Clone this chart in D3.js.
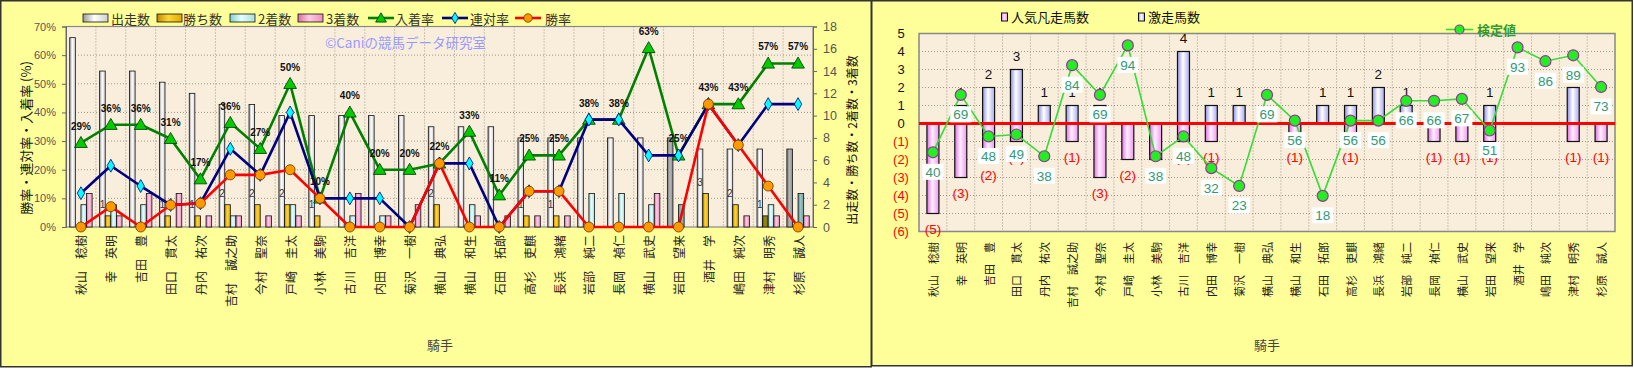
<!DOCTYPE html>
<html><head><meta charset="utf-8">
<script src="https://cdn.jsdelivr.net/npm/d3@7"></script>
<style>body{margin:0;background:#fff;}svg{display:block;}</style>
</head><body>
<svg id="c" width="1634" height="369"></svg>
<script>
// ---------- DATA ----------
const jockeys = ["秋山　稔樹","幸　英明","吉田　豊","田口　貫太","丹内　祐次","吉村　誠之助","今村　聖奈","戸崎　圭太","小林　美駒","古川　吉洋","内田　博幸","菊沢　一樹","横山　典弘","横山　和生","石田　拓郎","高杉　吏麒","長浜　鴻緒","岩部　純二","長岡　禎仁","横山　武史","岩田　望来","酒井　学","嶋田　純次","津村　明秀","杉原　誠人"];
const starts  = [17,14,14,13,12,11,11,10,10,10,10,10,9,9,9,8,8,8,8,8,8,7,7,7,7];
const wins    = [0,1,0,1,1,2,2,2,1,0,0,0,2,0,0,1,1,0,0,0,0,3,2,1,0];
const seconds = [2,2,2,0,0,1,0,2,0,1,1,0,0,2,0,0,0,3,3,2,2,0,0,2,3];
const thirds  = [3,1,3,3,1,1,1,1,0,3,1,2,0,1,1,1,1,0,0,3,0,0,1,1,1];
const placeRate = [29.4,35.7,35.7,30.8,16.7,36.4,27.3,50,10,40,20,20,22.2,33.3,11.1,25,25,37.5,37.5,62.5,25,42.9,42.9,57.1,57.1];
const rentaiRate = [11.8,21.4,14.3,7.7,8.3,27.3,18.2,40,10,10,10,0,22.2,22.2,0,12.5,12.5,37.5,37.5,25,25,42.9,28.6,42.9,42.9];
const winRate = [0,7.1,0,7.7,8.3,18.2,18.2,20,10,0,0,0,22.2,0,0,12.5,12.5,0,0,0,0,42.9,28.6,14.3,0];
const pctTicks = [0,10,20,30,40,50,60,70];
const cntTicks = [0,2,4,6,8,10,12,14,16,18];

const gekisou = [0,1,2,3,1,1,1,0,0,4,1,1,0,0,1,1,2,1,0,0,1,0,0,2,0];
const bonsou  = [5,3,2,1,0,1,3,2,2,1,1,0,0,1,0,1,0,0,1,1,1,0,0,1,1];
const kentei  = [40,69,48,49,38,84,69,94,38,48,32,23,69,56,18,56,56,66,66,67,51,93,86,89,73];
const rTicks = [5,4,3,2,1,0,-1,-2,-3,-4,-5,-6];

// ---------- SETUP ----------
const svg = d3.select("#c");
const JP = "'Noto Sans CJK JP', sans-serif";
const NUM = "'Liberation Sans', Arial, sans-serif";
const defs = svg.append("defs");
function grad(id, stops){
  const g = defs.append("linearGradient").attr("id",id).attr("x1","0%").attr("x2","100%").attr("y1","0%").attr("y2","0%");
  stops.forEach(([o,c])=>g.append("stop").attr("offset",o).attr("stop-color",c));
}
grad("gStart",[[0,"#9a9a9a"],[0.45,"#ffffff"],[1,"#cfcfcf"]]);
grad("gStartD",[[0,"#707070"],[0.45,"#b8b8b8"],[1,"#909090"]]);
grad("gWin",[[0,"#c08a00"],[0.45,"#ffd633"],[1,"#e0a800"]]);
grad("gWinD",[[0,"#6a5a00"],[0.45,"#a08a10"],[1,"#7a6800"]]);
grad("g2nd",[[0,"#88cccc"],[0.45,"#e6ffff"],[1,"#aadddd"]]);
grad("g2ndD",[[0,"#5a8f8f"],[0.45,"#9ec4c4"],[1,"#6fa0a0"]]);
grad("g3rd",[[0,"#d8709f"],[0.45,"#ffcce6"],[1,"#e890bb"]]);
grad("gBlue",[[0,"#8f8fe6"],[0.45,"#ffffff"],[1,"#a9a9ee"]]);
grad("gPink",[[0,"#e070e0"],[0.45,"#ffeeff"],[1,"#ee99ee"]]);
// bars drawn in a darker shade in the picture
const darkStart = new Set(["岩田　望来","杉原　誠人"]);
const dark2nd = new Set(["岩田　望来","杉原　誠人"]);
const darkWin = new Set(["津村　明秀"]);

// panels
svg.append("rect").attr("x",0.75).attr("y",0.75).attr("width",870.5).attr("height",366)
  .attr("fill","#ffff99").attr("stroke","#333").attr("stroke-width",1.5);
svg.append("rect").attr("x",871.75).attr("y",0.75).attr("width",760.5).attr("height",365)
  .attr("fill","#ffff99").attr("stroke","#333").attr("stroke-width",1.5);

// ---------- LEFT CHART ----------
const L = {x0:66, x1:813, y0:26.5, y1:227};
const xL = d3.scaleBand().domain(jockeys).range([L.x0,L.x1]);
const yPct = d3.scaleLinear().domain([0,70]).range([L.y1,L.y0]);
const yCnt = d3.scaleLinear().domain([0,18]).range([L.y1,L.y0]);
const cxL = d => xL(d) + xL.bandwidth()/2;
const gl = svg.append("g");
gl.append("rect").attr("x",L.x0).attr("y",L.y0).attr("width",L.x1-L.x0).attr("height",L.y1-L.y0).attr("fill","#f8eedb");
gl.selectAll(".hg").data(pctTicks.slice(1)).join("line")
  .attr("x1",L.x0).attr("x2",L.x1).attr("y1",d=>yPct(d)).attr("y2",d=>yPct(d))
  .attr("stroke","#a09888").attr("stroke-dasharray","1,2").attr("stroke-width",1);
gl.selectAll(".vg").data(jockeys.slice(1)).join("line")
  .attr("x1",d=>xL(d)).attr("x2",d=>xL(d)).attr("y1",L.y0).attr("y2",L.y1)
  .attr("stroke","#a09888").attr("stroke-dasharray","1,2").attr("stroke-width",1);
gl.append("rect").attr("x",L.x0).attr("y",L.y0).attr("width",L.x1-L.x0).attr("height",L.y1-L.y0)
  .attr("fill","none").attr("stroke","#888").attr("stroke-width",1.2);

// axes
const axL = gl.append("g").attr("transform",`translate(${L.x0},0)`)
  .call(d3.axisLeft(yPct).tickValues(pctTicks).tickFormat(d=>d+"%").tickSize(4).tickPadding(6));
const axR = gl.append("g").attr("transform",`translate(${L.x1},0)`)
  .call(d3.axisRight(yCnt).tickValues(cntTicks).tickSize(4).tickPadding(6));
[axL,axR].forEach(a=>{a.select(".domain").attr("stroke","#666");a.selectAll(".tick line").attr("stroke","#666");});
axL.selectAll("text").attr("font-family",NUM).attr("font-size",11).attr("fill","#555");
axR.selectAll("text").attr("font-family",NUM).attr("font-size",12.5).attr("fill","#555");

// bars
const bw = 5.6;
const barSeries = [
  {vals:starts, fill:"url(#gStart)", dark:darkStart, dfill:"url(#gStartD)"},
  {vals:wins, fill:"url(#gWin)", dark:darkWin, dfill:"url(#gWinD)"},
  {vals:seconds, fill:"url(#g2nd)", dark:dark2nd, dfill:"url(#g2ndD)"},
  {vals:thirds, fill:"url(#g3rd)", dark:new Set(), dfill:null}
];
barSeries.forEach((s,k)=>{
  gl.append("g").selectAll("rect").data(jockeys.map((j,i)=>({j,v:s.vals[i]})).filter(d=>d.v>0)).join("rect")
    .attr("x",d=>cxL(d.j)-2*bw+k*bw).attr("width",bw)
    .attr("y",d=>yCnt(d.v)).attr("height",d=>yCnt(0)-yCnt(d.v))
    .attr("fill",d=>s.dark.has(d.j)?s.dfill:s.fill).attr("stroke","#111").attr("stroke-width",0.8);
});
// win count labels
gl.append("g").selectAll("text").data(jockeys.map((j,i)=>({j,v:wins[i]})).filter(d=>d.v>0)).join("text")
  .attr("x",d=>cxL(d.j)-1.5*bw).attr("y",d=>yCnt(d.v)-8)
  .attr("text-anchor","middle").attr("font-family",NUM).attr("font-size",10).attr("fill","#333").text(d=>d.v);

// lines
function drawLine(vals,color){
  gl.append("path").datum(vals).attr("fill","none").attr("stroke",color).attr("stroke-width",2.6)
    .attr("stroke-linejoin","round")
    .attr("d",d3.line().x((d,i)=>cxL(jockeys[i])).y(d=>yPct(d)));
}
drawLine(placeRate,"#008000");
gl.append("g").selectAll("path").data(placeRate).join("path")
  .attr("transform",(d,i)=>`translate(${cxL(jockeys[i])},${yPct(d)+1})`)
  .attr("d",d3.symbol(d3.symbolTriangle,70)).attr("fill","#00cc00").attr("stroke","#003300").attr("stroke-width",0.8);
drawLine(rentaiRate,"#000080");
gl.append("g").selectAll("path").data(rentaiRate).join("path")
  .attr("transform",(d,i)=>`translate(${cxL(jockeys[i])},${yPct(d)})`)
  .attr("d",d3.symbol(d3.symbolDiamond,48)).attr("fill","#00ffff").attr("stroke","#000080").attr("stroke-width",0.8);
drawLine(winRate,"#ff0000");
gl.append("g").selectAll("circle").data(winRate).join("circle")
  .attr("cx",(d,i)=>cxL(jockeys[i])).attr("cy",d=>yPct(d)).attr("r",5)
  .attr("fill","#ff9900").attr("stroke","#663300").attr("stroke-width",0.8);
// percent labels
gl.append("g").selectAll("text").data(placeRate).join("text")
  .attr("x",(d,i)=>cxL(jockeys[i])).attr("y",d=>yPct(d)-13)
  .attr("text-anchor","middle").attr("font-family",NUM).attr("font-weight","bold").attr("font-size",10).attr("fill","#111")
  .text(d=>Math.round(d)+"%");

// watermark
gl.append("text").attr("x",325).attr("y",47.5).attr("font-family",JP).attr("font-size",13.5).attr("fill","#9a9aff")
  .text("©Caniの競馬データ研究室");

// legend
const legBars = [["出走数","url(#gStart)",83,111],["勝ち数","url(#gWin)",157,183],["2着数","url(#g2nd)",230,258],["3着数","url(#g3rd)",298,326]];
legBars.forEach(([t,f,bx,tx])=>{
  gl.append("rect").attr("x",bx).attr("y",14).attr("width",25).attr("height",8).attr("fill",f).attr("stroke","#111").attr("stroke-width",0.8);
  gl.append("text").attr("x",tx).attr("y",23.5).attr("font-family",JP).attr("font-size",13).attr("fill","#333").text(t);
});
const legLines = [["入着率","#008000",368,395,"tri"],["連対率","#000080",442,470,"dia"],["勝率","#ff0000",515,545,"cir"]];
legLines.forEach(([t,c,lx,tx,m])=>{
  gl.append("line").attr("x1",lx).attr("x2",lx+26).attr("y1",18).attr("y2",18).attr("stroke",c).attr("stroke-width",2.6);
  const mx = lx+13;
  if(m==="tri") gl.append("path").attr("transform",`translate(${mx},19)`).attr("d",d3.symbol(d3.symbolTriangle,50)).attr("fill","#00cc00").attr("stroke","#003300").attr("stroke-width",0.8);
  if(m==="dia") gl.append("path").attr("transform",`translate(${mx},18)`).attr("d",d3.symbol(d3.symbolDiamond,36)).attr("fill","#00ffff").attr("stroke","#000080").attr("stroke-width",0.8);
  if(m==="cir") gl.append("circle").attr("cx",mx).attr("cy",18).attr("r",4.2).attr("fill","#ff9900").attr("stroke","#663300").attr("stroke-width",0.8);
  gl.append("text").attr("x",tx).attr("y",23.5).attr("font-family",JP).attr("font-size",13).attr("fill","#333").text(t);
});

// axis titles
gl.append("text").attr("transform","translate(25,138) rotate(-90)").attr("text-anchor","middle").attr("dominant-baseline","central")
  .attr("font-family",JP).attr("font-size",13).attr("fill","#111").text("勝率・連対率・入着率 (%)");
gl.append("text").attr("transform","translate(851,140) rotate(-90)").attr("text-anchor","middle").attr("dominant-baseline","central")
  .attr("font-family",JP).attr("font-size",12).attr("fill","#111").text("出走数・勝ち数・2着数・3着数");
gl.append("text").attr("x",440).attr("y",350).attr("text-anchor","middle").attr("font-family",JP).attr("font-size",13).attr("fill","#444").text("騎手");
// x labels
gl.append("g").selectAll("text").data(jockeys).join("text")
  .attr("transform",d=>`translate(${cxL(d)},235) rotate(-90)`).attr("text-anchor","end").attr("dominant-baseline","central")
  .attr("font-family",JP).attr("font-size",12).attr("fill","#222").text(d=>d);

// ---------- RIGHT CHART ----------
const R = {x0:919, x1:1615, y0:33.5, y1:231.5};
const xR = d3.scaleBand().domain(jockeys).range([R.x0,R.x1]);
const yR = d3.scaleLinear().domain([-6,5]).range([R.y1,R.y0]);
const yK = d3.scaleLinear().domain([0,100]).range([R.y1,R.y0]);
const cxR = d => xR(d) + xR.bandwidth()/2;
const gr = svg.append("g");
gr.append("rect").attr("x",R.x0).attr("y",R.y0).attr("width",R.x1-R.x0).attr("height",R.y1-R.y0).attr("fill","#f8eedb");
gr.selectAll(".hg").data(rTicks.slice(1,-1)).join("line")
  .attr("x1",R.x0).attr("x2",R.x1).attr("y1",d=>yR(d)).attr("y2",d=>yR(d))
  .attr("stroke","#a09888").attr("stroke-dasharray","1,2");
gr.selectAll(".vg").data(jockeys.slice(1)).join("line")
  .attr("x1",d=>xR(d)).attr("x2",d=>xR(d)).attr("y1",R.y0).attr("y2",R.y1)
  .attr("stroke","#a09888").attr("stroke-dasharray","1,2");
gr.append("rect").attr("x",R.x0).attr("y",R.y0).attr("width",R.x1-R.x0).attr("height",R.y1-R.y0)
  .attr("fill","none").attr("stroke","#888").attr("stroke-width",1.5);

// y tick labels
gr.append("g").selectAll("text").data(rTicks).join("text")
  .attr("x",901).attr("y",d=>yR(d)).attr("dy","0.36em").attr("text-anchor","middle")
  .attr("font-family",NUM).attr("font-size",13).attr("fill",d=>d<0?"#ff0000":"#111")
  .text(d=>d<0?`(${-d})`:d);

const rbw = 12;
// blue bars
gr.append("g").selectAll("rect").data(jockeys.map((j,i)=>({j,v:gekisou[i]})).filter(d=>d.v>0)).join("rect")
  .attr("x",d=>cxR(d.j)-rbw/2).attr("width",rbw).attr("y",d=>yR(d.v)).attr("height",d=>yR(0)-yR(d.v))
  .attr("fill","url(#gBlue)").attr("stroke","#111").attr("stroke-width",1.2);
// pink bars
gr.append("g").selectAll("rect").data(jockeys.map((j,i)=>({j,v:bonsou[i]})).filter(d=>d.v>0)).join("rect")
  .attr("x",d=>cxR(d.j)-rbw/2).attr("width",rbw).attr("y",yR(0)).attr("height",d=>yR(-d.v)-yR(0))
  .attr("fill","url(#gPink)").attr("stroke","#111").attr("stroke-width",1.2);
// bar labels
gr.append("g").selectAll("text").data(jockeys.map((j,i)=>({j,v:gekisou[i]})).filter(d=>d.v>0)).join("text")
  .attr("x",d=>cxR(d.j)).attr("y",d=>yR(d.v)-8.5).attr("text-anchor","middle")
  .attr("font-family",NUM).attr("font-size",13.5).attr("fill","#111").text(d=>d.v);
gr.append("g").selectAll("text").data(jockeys.map((j,i)=>({j,v:bonsou[i]})).filter(d=>d.v>0)).join("text")
  .attr("x",d=>cxR(d.j)).attr("y",d=>yR(-d.v)+20.5).attr("text-anchor","middle")
  .attr("font-family",NUM).attr("font-size",13.5).attr("fill","#ff0000").text(d=>`(${d.v})`);
// zero line
gr.append("line").attr("x1",R.x0).attr("x2",R.x1).attr("y1",yR(0)).attr("y2",yR(0)).attr("stroke","#ff0000").attr("stroke-width",3);
// kentei line
gr.append("path").datum(kentei).attr("fill","none").attr("stroke","#33dd33").attr("stroke-width",1.6)
  .attr("d",d3.line().x((d,i)=>cxR(jockeys[i])).y(d=>yK(d)));
gr.append("g").selectAll("circle").data(kentei).join("circle")
  .attr("cx",(d,i)=>cxR(jockeys[i])).attr("cy",d=>yK(d)).attr("r",5.5)
  .attr("fill","#22ee22").attr("stroke","#993399").attr("stroke-width",1.2);
const lb = gr.append("g").selectAll("g").data(kentei).join("g")
  .attr("transform",(d,i)=>`translate(${cxR(jockeys[i])},${yK(d)+19.5})`);
lb.append("rect").attr("x",-10.5).attr("y",-8).attr("width",21).attr("height",16).attr("fill","#ffffff");
lb.append("text").attr("text-anchor","middle").attr("dy","0.36em").attr("font-family",NUM).attr("font-size",13.5)
  .attr("fill","#339977").text(d=>d);

// legend
gr.append("rect").attr("x",1001.5).attr("y",13).attr("width",6).attr("height",8).attr("fill","url(#gPink)").attr("stroke","#111").attr("stroke-width",1);
gr.append("text").attr("x",1011).attr("y",22).attr("font-family",JP).attr("font-size",13).attr("fill","#111").text("人気凡走馬数");
gr.append("rect").attr("x",1138.5).attr("y",13).attr("width",6).attr("height",8).attr("fill","url(#gBlue)").attr("stroke","#111").attr("stroke-width",1);
gr.append("text").attr("x",1148).attr("y",22).attr("font-family",JP).attr("font-size",13).attr("fill","#111").text("激走馬数");
gr.append("line").attr("x1",1446).attr("x2",1473).attr("y1",29.5).attr("y2",29.5).attr("stroke","#33dd33").attr("stroke-width",1.6);
gr.append("circle").attr("cx",1459.5).attr("cy",29.5).attr("r",4.5).attr("fill","#22ee22").attr("stroke","#993399").attr("stroke-width",1.2);
gr.append("text").attr("x",1477).attr("y",34.5).attr("font-family",JP).attr("font-size",13).attr("font-weight","bold").attr("fill","#339933").text("検定値");

// titles and x labels
gr.append("text").attr("x",(R.x0+R.x1)/2).attr("y",350).attr("text-anchor","middle").attr("font-family",JP).attr("font-size",13).attr("fill","#444").text("騎手");
gr.append("g").selectAll("text").data(jockeys).join("text")
  .attr("transform",d=>`translate(${cxR(d)},242) rotate(-90)`).attr("text-anchor","end").attr("dominant-baseline","central")
  .attr("font-family",JP).attr("font-size",11).attr("fill","#222").text(d=>d);
</script>
</body></html>
